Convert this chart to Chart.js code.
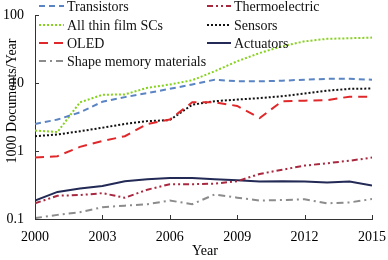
<!DOCTYPE html>
<html>
<head>
<meta charset="utf-8">
<script src="https://cdn.jsdelivr.net/npm/chart.js@4/dist/chart.umd.min.js"></script>
<style>
  html, body { margin: 0; padding: 0; background: #fff; }
  #wrap { width: 388px; height: 260px; }
</style>
</head>
<body>
<div id="wrap"><canvas id="grafica"></canvas></div>
<script>
// Datos (miles de documentos por año)
const years = [2000, 2001, 2002, 2003, 2004, 2005, 2006, 2007, 2008, 2009, 2010, 2011, 2012, 2013, 2014, 2015];
const transistors = [2.5, 2.9, 3.7, 5.3, 6.2, 7.1, 8.2, 9.5, 11.2, 10.6, 10.6, 10.8, 11.2, 11.5, 11.5, 11.2];
const thinFilm = [2.0, 1.9, 5.2, 6.7, 6.8, 8.5, 9.5, 11, 14.9, 20.9, 27.6, 34.7, 41, 44.6, 45.5, 46.5];
const oled = [0.8, 0.84, 1.15, 1.4, 1.65, 2.5, 2.9, 5.2, 5.2, 4.6, 3.05, 5.4, 5.5, 5.6, 6.3, 6.3];
const sensors = [1.65, 1.75, 1.95, 2.2, 2.5, 2.75, 2.85, 4.8, 5.4, 5.7, 6.0, 6.4, 7.0, 7.7, 8.2, 8.3];
const actuators = [0.187, 0.25, 0.28, 0.305, 0.36, 0.385, 0.40, 0.40, 0.385, 0.37, 0.355, 0.36, 0.355, 0.345, 0.355, 0.31];
const thermo = [0.17, 0.22, 0.225, 0.24, 0.205, 0.27, 0.325, 0.325, 0.33, 0.36, 0.46, 0.53, 0.61, 0.66, 0.72, 0.80];
const shapeMem = [0.103, 0.115, 0.126, 0.149, 0.157, 0.165, 0.187, 0.165, 0.23, 0.206, 0.187, 0.19, 0.195, 0.17, 0.175, 0.197];
const xTicks = [2000, 2003, 2006, 2009, 2012, 2015];
const yTicks = [0.1, 1, 10, 100];

const FONT = '14px "Liberation Serif", "Times New Roman", serif';

function serie(label, data, color, dash, col, row) {
    return {
        label: label,
        data: data.map((v, i) => ({ x: years[i], y: v })),
        borderColor: color,
        borderDash: dash,
        borderWidth: 2,
        borderCapStyle: 'butt',
        pointRadius: 0,
        tension: 0,
        fill: false,
        leyenda: { col: col, row: row }
    };
}

// Dibuja marcas hacia dentro, títulos de ejes y la leyenda en dos columnas
const extras = {
    id: 'extras',
    afterDraw(chart) {
        const ctx = chart.ctx;
        const xs = chart.scales.x, ys = chart.scales.y;
        const a = chart.chartArea;
        ctx.save();
        ctx.strokeStyle = '#333';
        ctx.lineWidth = 1;
        xTicks.forEach(t => {
            const px = Math.round(xs.getPixelForValue(t)) + 0.5;
            ctx.beginPath(); ctx.moveTo(px, a.bottom); ctx.lineTo(px, a.bottom - 4); ctx.stroke();
        });
        yTicks.forEach(t => {
            const py = Math.round(ys.getPixelForValue(t)) + 0.5;
            ctx.beginPath(); ctx.moveTo(a.left, py); ctx.lineTo(a.left + 4, py); ctx.stroke();
        });

        ctx.fillStyle = '#000';
        ctx.font = FONT;
        ctx.textAlign = 'center';
        ctx.textBaseline = 'middle';
        ctx.fillText('Year', 205, 251);
        ctx.save();
        ctx.translate(12, 101);
        ctx.rotate(-Math.PI / 2);
        ctx.fillText('1000 Documents/Year', 0, 0);
        ctx.restore();

        const cols = [{ x0: 39, x1: 64, tx: 67 }, { x0: 207, x1: 231, tx: 234 }];
        const rows = [6, 25, 43, 61];
        chart.data.datasets.forEach(ds => {
            const c = cols[ds.leyenda.col], y = rows[ds.leyenda.row];
            ctx.strokeStyle = ds.borderColor;
            ctx.lineWidth = 2;
            ctx.setLineDash(ds.borderDash);
            ctx.beginPath(); ctx.moveTo(c.x0, y); ctx.lineTo(c.x1, y); ctx.stroke();
            ctx.setLineDash([]);
            ctx.fillStyle = '#111';
            ctx.textAlign = 'left';
            ctx.fillText(ds.label, c.tx, y + 1);
        });
        ctx.restore();
    }
};

const ctx = document.getElementById('grafica').getContext('2d');
new Chart(ctx, {
    type: 'line',
    data: {
        datasets: [
            serie('Transistors', transistors, '#5a84c4', [6, 4], 0, 0),
            serie('All thin film SCs', thinFilm, '#86d21c', [2, 2], 0, 1),
            serie('OLED', oled, '#e0282a', [9, 6], 0, 2),
            serie('Shape memory materials', shapeMem, '#8c8c8c', [7, 4, 2, 4], 0, 3),
            serie('Thermoelectric', thermo, '#a8283f', [6, 3, 2, 3, 2, 3], 1, 0),
            serie('Sensors', sensors, '#111111', [2, 2], 1, 1),
            serie('Actuators', actuators, '#222a55', [], 1, 2)
        ]
    },
    options: {
        responsive: true,
        maintainAspectRatio: false,
        animation: false,
        layout: { padding: { top: 15, right: 15, left: 0, bottom: 0 } },
        plugins: { legend: { display: false }, tooltip: { enabled: false } },
        scales: {
            x: {
                type: 'linear',
                min: 2000,
                max: 2015,
                afterBuildTicks: s => { s.ticks = xTicks.map(v => ({ value: v })); },
                afterFit: s => { s.height = 41; },
                grid: { display: false },
                border: { display: true, color: '#333', width: 1 },
                ticks: {
                    color: '#000',
                    padding: 2,
                    maxRotation: 0,
                    font: { family: '"Liberation Serif", serif', size: 14 },
                    callback: v => String(v)
                }
            },
            y: {
                type: 'logarithmic',
                min: 0.1,
                max: 100,
                afterBuildTicks: s => { s.ticks = yTicks.map(v => ({ value: v })); },
                afterFit: s => { s.width = 35; },
                grid: { display: false },
                border: { display: true, color: '#333', width: 1 },
                ticks: {
                    color: '#000',
                    padding: 3,
                    font: { family: '"Liberation Serif", serif', size: 14 },
                    callback: v => String(v)
                }
            }
        }
    },
    plugins: [extras]
});
</script>
</body>
</html>
